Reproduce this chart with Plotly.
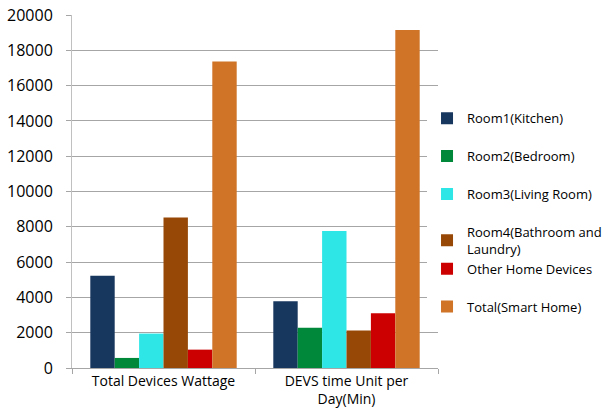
import plotly.graph_objects as go

categories = ["Total Devices Wattage", "DEVS time Unit per<br>Day(Min)"]

series_names = [
    "Room1(Kitchen)",
    "Room2(Bedroom)",
    "Room3(Living Room)",
    "Room4(Bathroom and<br>Laundry)",
    "Other Home Devices",
    "Total(Smart Home)",
]

kitchen = [5230, 3780]
bedroom = [570, 2280]
living_room = [1950, 7760]
bathroom_laundry = [8530, 2130]
other_devices = [1040, 3100]
smart_home_total = [17370, 19150]

series_values = [kitchen, bedroom, living_room, bathroom_laundry, other_devices, smart_home_total]
colors = ["#17375E", "#00883A", "#2EE6E6", "#974806", "#CC0000", "#D07428"]
# the wrapped two-line entry sits tight against the next one, so they share a legend block
legend_blocks = ["a", "b", "c", "d", "d", "e"]

y_ticks = list(range(0, 20001, 2000))

font_family = "Open Sans, Noto Sans, sans-serif"

fig = go.Figure()
for name, vals, col, blk in zip(series_names, series_values, colors, legend_blocks):
    fig.add_trace(go.Bar(
        x=categories,
        y=vals,
        name=name,
        legendgroup=blk,
        marker=dict(color=col, line=dict(width=0)),
    ))

fig.update_layout(
    width=613,
    height=419,
    margin=dict(l=72, r=175, t=15, b=51, autoexpand=False),
    paper_bgcolor="white",
    plot_bgcolor="white",
    barmode="group",
    bargap=0.2,
    bargroupgap=0,
    font=dict(family=font_family, color="#000000", size=14),
    legend=dict(
        x=0.97, xanchor="left",
        y=0.44, yanchor="middle",
        font=dict(size=13, family=font_family),
        tracegroupgap=18,
        itemwidth=30,
        traceorder="grouped",
    ),
    showlegend=True,
)

fig.update_xaxes(
    showline=True,
    linecolor="#A6A6A6",
    linewidth=1,
    ticks="outside",
    tickson="boundaries",
    ticklen=5,
    tickcolor="#A6A6A6",
    tickfont=dict(size=14, family=font_family),
    showgrid=False,
)

fig.update_yaxes(
    range=[0, 20000],
    tickvals=y_ticks,
    ticktext=[str(v) for v in y_ticks],
    showline=True,
    linecolor="#C0C0C0",
    linewidth=1,
    ticks="outside",
    ticklen=5,
    tickcolor="#A6A6A6",
    ticklabelstandoff=10,
    showgrid=True,
    gridcolor="#A6A6A6",
    gridwidth=1,
    zeroline=False,
    tickfont=dict(size=16, family=font_family),
)

fig.write_html("out.html")
